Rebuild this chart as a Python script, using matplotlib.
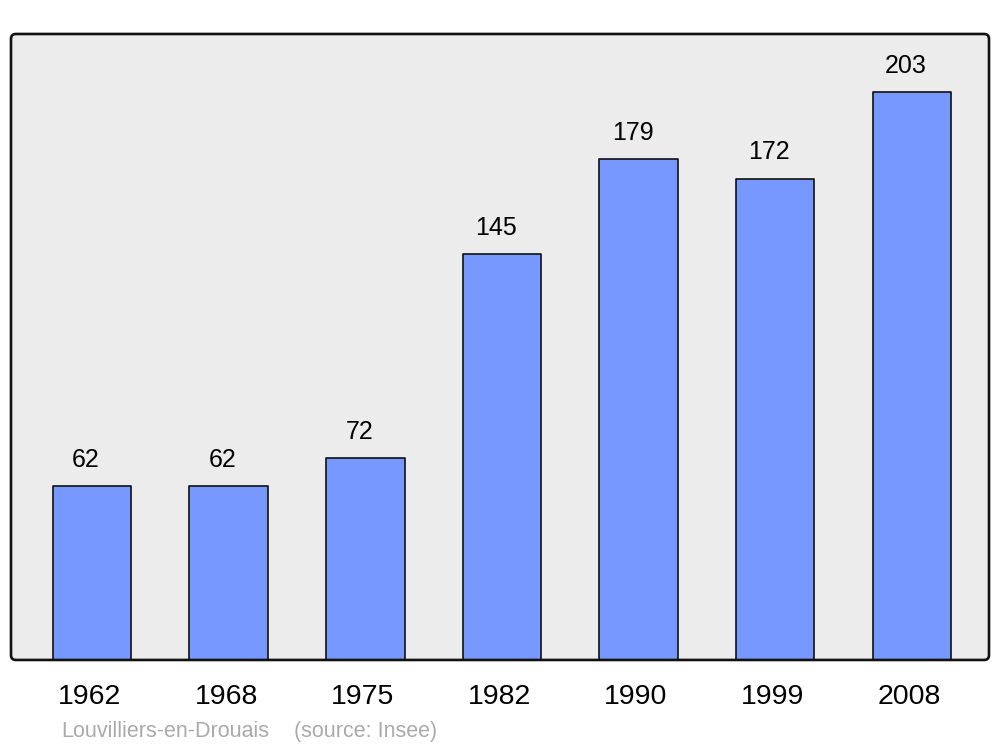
import matplotlib
matplotlib.use("Agg")
import matplotlib.pyplot as plt
import matplotlib.transforms as mtransforms
from matplotlib.patches import FancyBboxPatch

years = ["1962", "1968", "1975", "1982", "1990", "1999", "2008"]
population = [62, 62, 72, 145, 179, 172, 203]
commune = "Louvilliers-en-Drouais"
source = "(source: Insee)"

plt.rcParams['font.family'] = ['Liberation Sans', 'DejaVu Sans']

fig = plt.figure(figsize=(10, 7.47), dpi=100)
ax = fig.add_axes([0.011, 0.1165, 0.978, 0.838])
ax.set_facecolor('none')

# rounded background frame
frame = FancyBboxPatch((0, 0), 1, 1, boxstyle="round,pad=0,rounding_size=0.005",
                       mutation_aspect=978 / 626, transform=ax.transAxes,
                       facecolor='#ececec', edgecolor='none', zorder=0, clip_on=False)
ax.add_patch(frame)
border = FancyBboxPatch((0, 0), 1, 1, boxstyle="round,pad=0,rounding_size=0.005",
                        mutation_aspect=978 / 626, transform=ax.transAxes,
                        facecolor='none', edgecolor='#111111', linewidth=1.9,
                        zorder=5, clip_on=False)
ax.add_patch(border)

x = range(len(years))
bars = ax.bar(x, population, width=0.575, color='#7799ff', edgecolor='#111111',
              linewidth=1.2, zorder=2)
for b in bars:
    b.set_joinstyle('round')

for xi, v in zip(x, population):
    ax.annotate(str(v), (xi, v), xytext=(-4.3, 13.8), textcoords='offset points',
                ha='center', va='baseline', fontsize=18, color='#000000', zorder=3)

ax.set_xlim(-0.593, 6.565)
ax.set_ylim(0, 223.7)
ax.set_xticks(list(x))
ax.set_xticklabels(years, fontsize=20.5)
ax.set_yticks([])
ax.tick_params(axis='x', length=0, pad=17.5)
shift = mtransforms.ScaledTranslation(-2.5 / 100, 0, fig.dpi_scale_trans)
for lab in ax.get_xticklabels():
    lab.set_transform(lab.get_transform() + shift)
for s in ax.spines.values():
    s.set_visible(False)

fig.text(0.061, 0.013, commune, fontsize=15.5, color='#aaaaaa', ha='left', va='baseline')
fig.text(0.294, 0.013, source, fontsize=15.5, color='#aaaaaa', ha='left', va='baseline')

fig.savefig("out.png", dpi=100)
